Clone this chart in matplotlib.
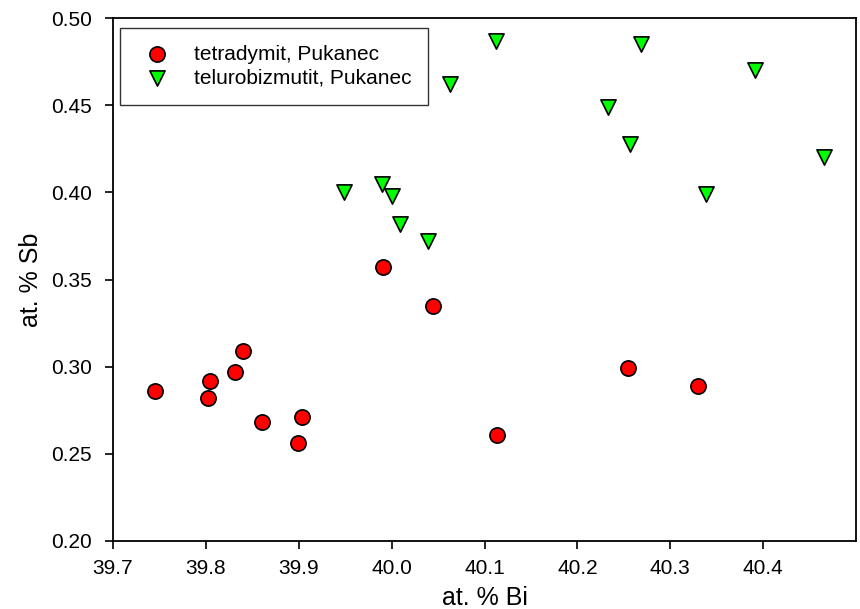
import matplotlib
matplotlib.use('Agg')
import matplotlib.pyplot as plt

plt.rcParams['font.family'] = ['Liberation Sans', 'DejaVu Sans']

# tetradymit, Pukanec
tetra_bi = [39.745, 39.802, 39.804, 39.831, 39.840, 39.860, 39.904, 39.899,
            39.991, 40.045, 40.113, 40.254, 40.330]
tetra_sb = [0.286, 0.282, 0.292, 0.297, 0.309, 0.268, 0.271, 0.256,
            0.357, 0.335, 0.261, 0.299, 0.289]

# telurobizmutit, Pukanec
telu_bi = [39.949, 39.990, 40.000, 40.009, 40.039, 40.063, 40.112, 40.233,
           40.269, 40.257, 40.391, 40.465, 40.338]
telu_sb = [0.400, 0.405, 0.398, 0.382, 0.372, 0.462, 0.487, 0.449,
           0.485, 0.428, 0.470, 0.420, 0.399]

xticks = [39.7, 39.8, 39.9, 40.0, 40.1, 40.2, 40.3, 40.4]
yticks = [0.20, 0.25, 0.30, 0.35, 0.40, 0.45, 0.50]

fig = plt.figure(figsize=(8.6, 6.09), dpi=100)
ax = fig.add_axes([0.1314, 0.1117, 0.8640, 0.8587])

ax.scatter(tetra_bi, tetra_sb, s=120, marker='o', c='#ff0000', edgecolors='black',
           linewidths=1.2, label='tetradymit, Pukanec', zorder=3)
ax.scatter(telu_bi, telu_sb, s=120, marker='v', c='#00ff00', edgecolors='black',
           linewidths=1.2, label='telurobizmutit, Pukanec', zorder=3)

ax.set_xlim(39.7, 40.5)
ax.set_ylim(0.20, 0.50)
ax.set_xticks(xticks)
ax.set_xticklabels(['%.1f' % v for v in xticks])
ax.set_yticks(yticks)
ax.set_yticklabels(['%.2f' % v for v in yticks])
ax.tick_params(direction='out', length=6, width=1.2, labelsize=15,
               top=False, right=False)
ax.tick_params(axis='x', pad=7)
ax.tick_params(axis='y', pad=9)
for sp in ax.spines.values():
    sp.set_linewidth(1.3)

ax.set_xlabel('at. % Bi', fontsize=18, labelpad=6)
ax.set_ylabel('at. % Sb', fontsize=18, labelpad=6)

leg = ax.legend(loc='upper left', bbox_to_anchor=(0.0094, 0.981), borderaxespad=0,
                fontsize=15, frameon=True, fancybox=False, edgecolor='black',
                borderpad=0.8, handlelength=2.0, handletextpad=0.75,
                labelspacing=0.25, scatterpoints=1)
leg.get_frame().set_linewidth(1.0)

fig.savefig('out.png', dpi=100)
